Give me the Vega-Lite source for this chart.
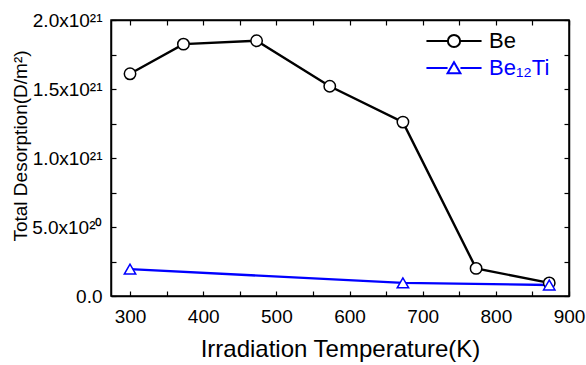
{
  "$schema": "https://vega.github.io/schema/vega-lite/v6.json",
  "width": 458,
  "height": 276,
  "autosize": "none",
  "padding": {"left": 111, "top": 20, "right": 17, "bottom": 69},
  "background": "white",
  "config": {
    "view": {"stroke": "black", "strokeWidth": 1.5},
    "axis": {
      "grid": false,
      "domainColor": "black",
      "domainWidth": 1.5,
      "tickColor": "black",
      "tickWidth": 1.2,
      "labelFont": "Liberation Sans",
      "labelFontSize": 19,
      "labelColor": "black",
      "titleColor": "#000000",
      "titleFontWeight": "normal",
      "labelFlush": false,
      "labelOverlap": false
    }
  },
  "data": {
    "values": [
      {"temp": 300, "desorption": 1.61e21, "series": "Be"},
      {"temp": 373, "desorption": 1.825e21, "series": "Be"},
      {"temp": 473, "desorption": 1.85e21, "series": "Be"},
      {"temp": 573, "desorption": 1.52e21, "series": "Be"},
      {"temp": 673, "desorption": 1.26e21, "series": "Be"},
      {"temp": 773, "desorption": 2.0e20, "series": "Be"},
      {"temp": 873, "desorption": 9.5e19, "series": "Be"},
      {"temp": 300, "desorption": 1.95e20, "series": "Be₁₂Ti"},
      {"temp": 673, "desorption": 9.5e19, "series": "Be₁₂Ti"},
      {"temp": 873, "desorption": 8.0e19, "series": "Be₁₂Ti"}
    ]
  },
  "layer": [
    {
      "mark": {"type": "line", "strokeWidth": 2.4},
      "encoding": {
        "x": {
          "field": "temp", "type": "quantitative",
          "scale": {"domain": [274, 900], "nice": false, "zero": false},
          "axis": {
            "orient": "bottom",
            "values": [300, 350, 400, 450, 500, 550, 600, 650, 700, 750, 800, 850, 900],
            "labelExpr": "datum.value % 100 === 0 ? datum.label : ''",
            "tickSize": -5,
            "labelPadding": 16,
            "title": "Irradiation Temperature(K)",
            "titleFont": "Liberation Sans",
            "titleFontSize": 24,
            "titleColor": "#000000",
            "titleX": 229,
            "titleY": 60,
            "titleAlign": "center",
            "titleBaseline": "alphabetic"
          }
        },
        "y": {
          "field": "desorption", "type": "quantitative",
          "scale": {"domain": [0, 2e21], "nice": false},
          "axis": {
            "orient": "left",
            "values": [0, 2.5e20, 5e20, 7.5e20, 1e21, 1.25e21, 1.5e21, 1.75e21, 2e21],
            "labelExpr": "datum.value === 0 ? '0.0' : (datum.value % 5e20 !== 0 ? '' : (datum.value === 5e20 ? '5.0x10²⁰' : format(datum.value / 1e21, '.1f') + 'x10²¹'))",
            "tickSize": -5,
            "labelPadding": 14,
            "title": "Total Desorption(D/m²)",
            "titleFont": "Liberation Sans",
            "titleFontSize": 19,
            "titleColor": "#000000",
            "titleAngle": -90,
            "titleX": -85,
            "titleY": 125.5,
            "titleAlign": "center",
            "titleBaseline": "alphabetic"
          }
        },
        "stroke": {
          "field": "series", "type": "nominal",
          "scale": {"domain": ["Be", "Be₁₂Ti"], "range": ["black", "#0000ff"]},
          "legend": null
        }
      }
    },
    {
      "mark": {"type": "point", "filled": true, "fill": "white", "size": 130, "strokeWidth": 1.5, "opacity": 1},
      "encoding": {
        "x": {
          "field": "temp", "type": "quantitative",
          "axis": {
            "orient": "top",
            "values": [300, 350, 400, 450, 500, 550, 600, 650, 700, 750, 800, 850, 900],
            "labels": false, "tickSize": -5, "title": null
          }
        },
        "y": {
          "field": "desorption", "type": "quantitative",
          "axis": {
            "orient": "right",
            "values": [0, 2.5e20, 5e20, 7.5e20, 1e21, 1.25e21, 1.5e21, 1.75e21, 2e21],
            "labels": false, "tickSize": -5, "title": null
          }
        },
        "stroke": {"field": "series", "type": "nominal", "legend": null},
        "shape": {
          "field": "series", "type": "nominal",
          "scale": {"domain": ["Be", "Be₁₂Ti"], "range": ["circle", "triangle-up"]},
          "legend": null
        }
      }
    },
    {
      "transform": [{"filter": "false"}],
      "mark": {"type": "point", "filled": false, "strokeWidth": 2, "opacity": 1},
      "encoding": {
        "x": {"field": "temp", "type": "quantitative", "axis": null},
        "y": {"field": "desorption", "type": "quantitative", "axis": null},
        "color": {
          "field": "series", "type": "nominal",
          "scale": {"domain": ["Be"], "range": ["black"]},
          "legend": {
            "orient": "none", "legendX": 332, "legendY": 10, "title": null, "padding": 0,
            "symbolType": "M-4.5,0L-1,0M1,0L4.5,0M1,0A1,1 0 1,1 -1,0A1,1 0 1,1 1,0Z",
            "symbolSize": 150, "symbolStrokeWidth": 2, "symbolOpacity": 1,
            "labelColor": "black", "labelFont": "Liberation Sans", "labelFontSize": 22, "labelOffset": 24
          }
        }
      }
    },
    {
      "transform": [{"filter": "false"}],
      "mark": {"type": "point", "filled": false, "strokeWidth": 2, "opacity": 1},
      "encoding": {
        "x": {"field": "temp", "type": "quantitative", "axis": null},
        "y": {"field": "desorption", "type": "quantitative", "axis": null},
        "color": {
          "field": "series", "type": "nominal",
          "scale": {"domain": ["Be₁₂Ti"], "range": ["#0000ff"]},
          "legend": {
            "orient": "none", "legendX": 332, "legendY": 37, "title": null, "padding": 0,
            "symbolType": "M-4.5,0L-1.05,0M1.05,0L4.5,0M-1.05,0.85L1.05,0.85L0,-0.95Z",
            "symbolSize": 150, "symbolStrokeWidth": 2, "symbolOpacity": 1,
            "labelColor": "#0000ff", "labelFont": "Liberation Sans", "labelFontSize": 22, "labelOffset": 24
          }
        }
      }
    }
  ],
  "resolve": {
    "scale": {"color": "independent"},
    "axis": {"x": "independent", "y": "independent"}
  }
}
